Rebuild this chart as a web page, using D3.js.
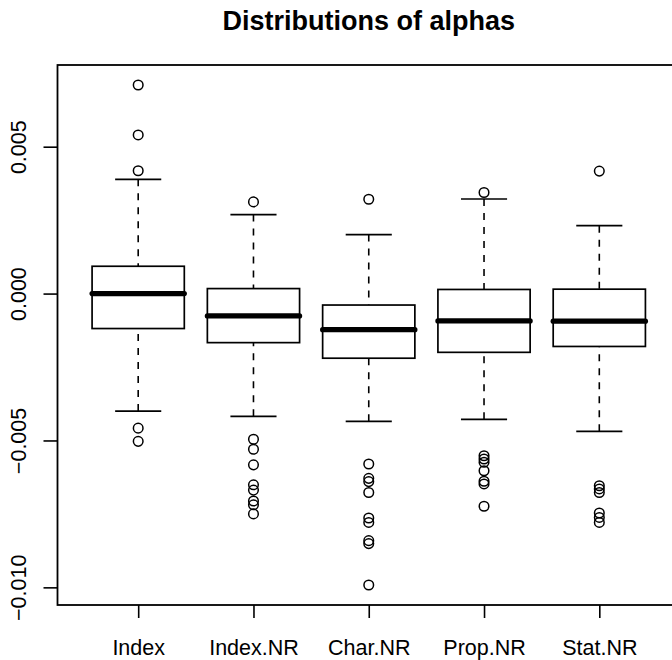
<!DOCTYPE html>
<html>
<head>
<meta charset="utf-8">
<script src="https://cdn.jsdelivr.net/npm/d3@7"></script>
<style>
  body { margin: 0; background: #fff; }
  text { font-family: "Liberation Sans", Arial, Helvetica, sans-serif; fill: #000; }
</style>
</head>
<body>
<svg id="chart"></svg>
<script>
// values
var categories = ["Index", "Index.NR", "Char.NR", "Prop.NR", "Stat.NR"];
var whiskerLow  = [-0.00400, -0.00418, -0.00435, -0.00428, -0.00469];
var q1          = [-0.00119, -0.00167, -0.00220, -0.00200, -0.00180];
var medians     = [ 0.00000, -0.00076, -0.00123, -0.00093, -0.00094];
var q3          = [ 0.00093,  0.00017, -0.00039,  0.00014,  0.00015];
var whiskerHigh = [ 0.00389,  0.00269,  0.00201,  0.00322,  0.00231];
var outliers = [
  [0.00710, 0.00540, 0.00418, -0.00458, -0.00503],
  [0.00312, -0.00496, -0.00530, -0.00583, -0.00651, -0.00669, -0.00706, -0.00719, -0.00750],
  [0.00321, -0.00580, -0.00629, -0.00640, -0.00677, -0.00764, -0.00779, -0.00841, -0.00851, -0.00992],
  [0.00344, -0.00552, -0.00563, -0.00574, -0.00603, -0.00639, -0.00648, -0.00724],
  [0.00417, -0.00654, -0.00665, -0.00677, -0.00747, -0.00762, -0.00779]
];
var yTicks = [-0.010, -0.005, 0.000, 0.005];
var title = "Distributions of alphas";

var svgWidth = 672, svgHeight = 660;
var margin = { top: 65, left: 57.5 };
var width = 622.5, height = 540;

var svg = d3.select("#chart")
    .attr("width", svgWidth)
    .attr("height", svgHeight);

var g = svg.append("g")
    .attr("transform", "translate(" + margin.left + "," + margin.top + ")");

// one table of boxes built from the arrays
var boxes = categories.map(function(c, i) {
  return { name: c, pos: i + 1, lo: whiskerLow[i], q1: q1[i], med: medians[i],
           q3: q3[i], hi: whiskerHigh[i], out: outliers[i] };
});

// R style 4% padding on the y range
var all = [];
boxes.forEach(function(b) { all = all.concat([b.lo, b.hi], b.out); });
var ext = d3.extent(all);
var pad = (ext[1] - ext[0]) * 0.04;

var x = d3.scaleLinear()
    .domain([0.3, categories.length + 0.7])
    .range([0, width]);

var y = d3.scaleLinear()
    .domain([ext[0] - pad, ext[1] + pad])
    .range([height, 0]);

var halfBox = x(1.4) - x(1);
var halfCap = x(1.2) - x(1);

var box = g.selectAll(".box")
    .data(boxes)
    .enter().append("g")
    .attr("class", "box");

// dashed whiskers, drawn from the whisker end to the box like R does
box.append("line")
    .attr("x1", function(d) { return x(d.pos); })
    .attr("x2", function(d) { return x(d.pos); })
    .attr("y1", function(d) { return y(d.hi); })
    .attr("y2", function(d) { return y(d.q3); })
    .attr("stroke", "#000").attr("stroke-width", 1.6).attr("stroke-dasharray", "7,7");

box.append("line")
    .attr("x1", function(d) { return x(d.pos); })
    .attr("x2", function(d) { return x(d.pos); })
    .attr("y1", function(d) { return y(d.lo); })
    .attr("y2", function(d) { return y(d.q1); })
    .attr("stroke", "#000").attr("stroke-width", 1.6).attr("stroke-dasharray", "7,7");

// staples
["lo", "hi"].forEach(function(k) {
  box.append("line")
      .attr("x1", function(d) { return x(d.pos) - halfCap; })
      .attr("x2", function(d) { return x(d.pos) + halfCap; })
      .attr("y1", function(d) { return y(d[k]); })
      .attr("y2", function(d) { return y(d[k]); })
      .attr("stroke", "#000").attr("stroke-width", 1.7);
});

box.append("rect")
    .attr("x", function(d) { return x(d.pos) - halfBox; })
    .attr("width", halfBox * 2)
    .attr("y", function(d) { return y(d.q3); })
    .attr("height", function(d) { return y(d.q1) - y(d.q3); })
    .attr("fill", "#fff")
    .attr("stroke", "#000").attr("stroke-width", 1.7);

box.append("line")
    .attr("x1", function(d) { return x(d.pos) - halfBox; })
    .attr("x2", function(d) { return x(d.pos) + halfBox; })
    .attr("y1", function(d) { return y(d.med); })
    .attr("y2", function(d) { return y(d.med); })
    .attr("stroke", "#000").attr("stroke-width", 5.2).attr("stroke-linecap", "round");

box.selectAll("circle")
    .data(function(d) { return d.out.map(function(v) { return { pos: d.pos, v: v }; }); })
    .enter().append("circle")
    .attr("cx", function(d) { return x(d.pos); })
    .attr("cy", function(d) { return y(d.v); })
    .attr("r", 4.8)
    .attr("fill", "none")
    .attr("stroke", "#000").attr("stroke-width", 1.5);

// axes
var yAxis = g.append("g")
    .call(d3.axisLeft(y).tickValues(yTicks).tickSize(14).tickFormat(d3.format(".3f")));
yAxis.select(".domain").remove();
yAxis.selectAll("line").attr("stroke", "#000").attr("stroke-width", 1.6);
yAxis.selectAll("text")
    .attr("transform", "rotate(-90)")
    .attr("x", 0).attr("y", -31.5).attr("dy", 0)
    .attr("text-anchor", "middle")
    .style("font-size", "21.5px");

var xAxis = g.append("g")
    .attr("transform", "translate(0," + height + ")")
    .call(d3.axisBottom(x).tickValues(d3.range(1, categories.length + 1)).tickSize(13)
      .tickFormat(function(d) { return categories[d - 1]; }));
xAxis.select(".domain").remove();
xAxis.selectAll("line").attr("stroke", "#000").attr("stroke-width", 1.6);
xAxis.selectAll("text")
    .attr("y", 50).attr("dy", 0)
    .style("font-size", "21.5px");

// frame
g.append("rect")
    .attr("width", width).attr("height", height)
    .attr("fill", "none")
    .attr("stroke", "#000").attr("stroke-width", 1.8);

svg.append("text")
    .attr("x", margin.left + width / 2)
    .attr("y", 29.5)
    .attr("text-anchor", "middle")
    .style("font-size", "27px")
    .style("font-weight", "bold")
    .text(title);
</script>
</body>
</html>
